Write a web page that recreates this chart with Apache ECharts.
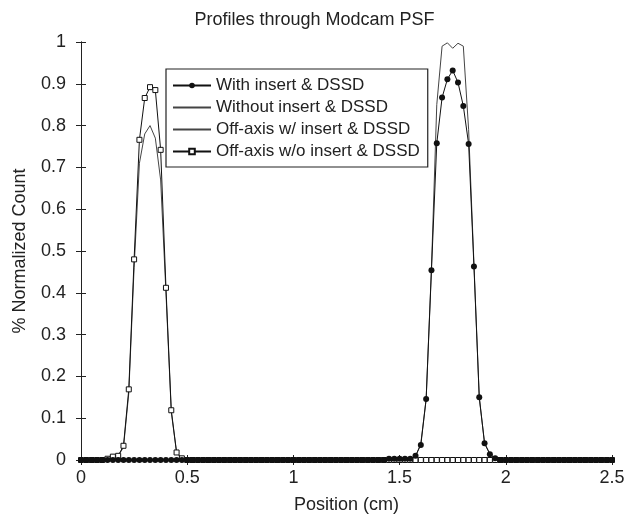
<!DOCTYPE html>
<html>
<head>
<meta charset="utf-8">
<script src="https://cdn.jsdelivr.net/npm/echarts@6/dist/echarts.min.js"></script>
<style>
html,body{margin:0;padding:0;background:#fff;}
#chart{width:629px;height:519px;}
</style>
</head>
<body>
<div id="chart"></div>
<script>
// Positions (cm)
var positions = [
  0,0.025,0.05,0.075,0.1,0.125,0.15,0.175,0.2,0.225,
  0.25,0.275,0.3,0.325,0.35,0.375,0.4,0.425,0.45,0.475,
  0.5,0.525,0.55,0.575,0.6,0.625,0.65,0.675,0.7,0.725,
  0.75,0.775,0.8,0.825,0.85,0.875,0.9,0.925,0.95,0.975,
  1,1.025,1.05,1.075,1.1,1.125,1.15,1.175,1.2,1.225,
  1.25,1.275,1.3,1.325,1.35,1.375,1.4,1.425,1.45,1.475,
  1.5,1.525,1.55,1.575,1.6,1.625,1.65,1.675,1.7,1.725,
  1.75,1.775,1.8,1.825,1.85,1.875,1.9,1.925,1.95,1.975,
  2,2.025,2.05,2.075,2.1,2.125,2.15,2.175,2.2,2.225,
  2.25,2.275,2.3,2.325,2.35,2.375,2.4,2.425,2.45,2.475,
  2.5
];
var seriesNames = ['With insert & DSSD','Without insert & DSSD','Off-axis w/ insert & DSSD','Off-axis w/o insert & DSSD'];
var withInsert = [
  0,0,0,0,0,0,0,0,0,0,
  0,0,0,0,0,0,0,0,0,0,
  0,0,0,0,0,0,0,0,0,0,
  0,0,0,0,0,0,0,0,0,0,
  0,0,0,0,0,0,0,0,0,0,
  0,0,0,0,0,0,0,0,0.003,0.003,
  0.003,0.003,0.003,0.01,0.036,0.146,0.454,0.758,0.867,0.911,
  0.932,0.903,0.847,0.756,0.463,0.15,0.04,0.014,0.004,0,
  0,0,0,0,0,0,0,0,0,0,
  0,0,0,0,0,0,0,0,0,0,
  0
];
var withoutInsert = [
  0,0,0,0,0,0,0,0,0,0,
  0,0,0,0,0,0,0,0,0,0,
  0,0,0,0,0,0,0,0,0,0,
  0,0,0,0,0,0,0,0,0,0,
  0,0,0,0,0,0,0,0,0,0,
  0,0,0,0,0,0,0,0,0,0,
  0,0,0.002,0.008,0.04,0.145,0.46,0.85,0.99,0.998,
  0.985,0.997,0.99,0.79,0.47,0.15,0.04,0.015,0.003,0,
  0,0,0,0,0,0,0,0,0,0,
  0,0,0,0,0,0,0,0,0,0,
  0
];
var offAxisWith = [
  0,0,0,0,0,0.002,0.006,0.01,0.03,0.16,
  0.46,0.71,0.78,0.80,0.77,0.67,0.40,0.115,0.018,0.003,
  0,0,0,0,0,0,0,0,0,0,
  0,0,0,0,0,0,0,0,0,0,
  0,0,0,0,0,0,0,0,0,0,
  0,0,0,0,0,0,0,0,0,0,
  0,0,0,0,0,0,0,0,0,0,
  0,0,0,0,0,0,0,0,0,0,
  0,0,0,0,0,0,0,0,0,0,
  0,0,0,0,0,0,0,0,0,0,
  0
];
var offAxisWithout = [
  0,0,0,0,0,0.003,0.008,0.01,0.034,0.169,
  0.48,0.766,0.866,0.892,0.885,0.742,0.412,0.119,0.018,0.004,
  0,0,0,0,0,0,0,0,0,0,
  0,0,0,0,0,0,0,0,0,0,
  0,0,0,0,0,0,0,0,0,0,
  0,0,0,0,0,0,0,0,0,0,
  0,0,0,0,0,0,0,0,0,0,
  0,0,0,0,0,0,0,0,0,0,
  0,0,0,0,0,0,0,0,0,0,
  0,0,0,0,0,0,0,0,0,0,
  0
];

function pairs(vals){ return positions.map(function(x,i){ return [x, vals[i]]; }); }

var FONT = '"Liberation Sans", Arial, Helvetica, sans-serif';
var AX = '#222';
var chart = echarts.init(document.getElementById('chart'), null, {renderer:'canvas'});
var axisCommon = {
  axisLine:{show:true, lineStyle:{color:AX, width:1}},
  axisTick:{show:true, inside:true, length:5, lineStyle:{color:AX}},
  splitLine:{show:false}
};
chart.setOption({
  animation:false,
  backgroundColor:'#fff',
  textStyle:{fontFamily:FONT},
  title:{
    text:'Profiles through Modcam PSF',
    left:'center', top:6,
    textStyle:{fontFamily:FONT, fontSize:18, fontWeight:'normal', color:'#222'}
  },
  grid:{left:81, right:17, top:42, bottom:58, containLabel:false},
  legend:{
    orient:'vertical', left:166, top:69,
    padding:[8,8,7,6], itemGap:5, itemWidth:38, itemHeight:7,
    backgroundColor:'#fff', borderColor:'#222', borderWidth:1.2,
    textStyle:{fontFamily:FONT, fontSize:17, color:'#222', lineHeight:17},
    data:[
      {name:seriesNames[0]},
      {name:seriesNames[1], itemStyle:{color:'rgba(0,0,0,0)', borderColor:'rgba(0,0,0,0)', borderWidth:0}},
      {name:seriesNames[2], itemStyle:{color:'rgba(0,0,0,0)', borderColor:'rgba(0,0,0,0)', borderWidth:0}},
      {name:seriesNames[3]}
    ]
  },
  xAxis:[
    Object.assign({
      type:'value', min:0, max:2.5, interval:0.5, position:'bottom',
      axisLabel:{fontSize:18, color:'#222', margin:9, fontFamily:FONT},
      name:'Position (cm)', nameLocation:'middle', nameGap:36,
      nameTextStyle:{fontSize:18, color:'#222', fontFamily:FONT}
    }, axisCommon),
    Object.assign({
      type:'value', min:0, max:2.5, interval:0.5, position:'top',
      axisLabel:{show:false}
    }, axisCommon)
  ],
  yAxis:[
    Object.assign({
      type:'value', min:0, max:1, interval:0.1, position:'left',
      axisLabel:{fontSize:18, color:'#222', margin:15, fontFamily:FONT},
      name:'% Normalized Count', nameLocation:'middle', nameGap:52,
      nameTextStyle:{fontSize:18, color:'#222', fontFamily:FONT}
    }, axisCommon),
    Object.assign({
      type:'value', min:0, max:1, interval:0.1, position:'right',
      axisLabel:{show:false}
    }, axisCommon)
  ],
  series:[
    {
      name:seriesNames[0], type:'line', z:5, data:pairs(withInsert),
      symbol:'circle', symbolSize:6, showSymbol:true,
      lineStyle:{color:'#111', width:1},
      itemStyle:{color:'#111', borderColor:'#111', borderWidth:0}
    },
    {
      name:seriesNames[1], type:'line', z:3, data:pairs(withoutInsert),
      symbol:'none', lineStyle:{color:'#444', width:1}, itemStyle:{color:'#444'}
    },
    {
      name:seriesNames[2], type:'line', z:3, data:pairs(offAxisWith),
      symbol:'none', lineStyle:{color:'#444', width:1}, itemStyle:{color:'#444'}
    },
    {
      name:seriesNames[3], type:'line', z:4, data:pairs(offAxisWithout),
      symbol:'rect', symbolSize:5, showSymbol:true,
      lineStyle:{color:'#111', width:1},
      itemStyle:{color:'#fff', borderColor:'#111', borderWidth:1}
    }
  ]
});
</script>
</body>
</html>
